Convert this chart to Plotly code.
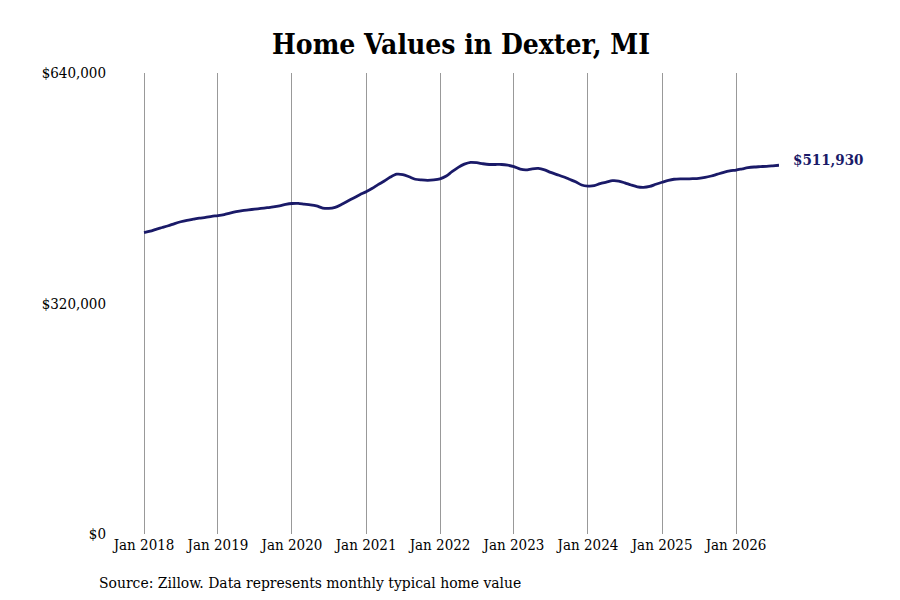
import plotly.graph_objects as go
import pandas as pd

start_month = "2018-01-01"
values_k = [
    # 2018
    418.5, 420.5, 423, 425.5, 428, 431, 433.5, 435.5, 437, 438.5, 439.5, 441,
    # 2019
    442, 443.5, 445.5, 447.5, 449, 450, 451, 452, 453, 454, 455.5, 457.5,
    # 2020
    458.8, 459, 458, 457, 455.5, 452.5, 452, 453.5, 457.5, 462, 466.5, 471,
    # 2021
    475.2, 480, 485, 490, 495.5, 499.5, 499, 496, 492.5, 491.5, 491, 491.5,
    # 2022
    493, 497, 503, 509, 513.5, 516, 515.5, 514, 513, 513, 513, 512,
    # 2023
    510, 506.5, 505.5, 507, 507.5, 505.5, 502, 499, 496, 492.5, 489, 484.5,
    # 2024
    483, 483.5, 486.5, 488.5, 490.5, 490, 487.5, 484.5, 482, 481.3, 482.5, 485.5,
    # 2025
    488.3, 491, 492.5, 493, 493, 493.3, 493.8, 495, 497, 499.5, 502, 504,
    # 2026
    505.3, 507, 508.5, 509.5, 510, 510.5, 511.2, 511.93,
]
values = [v * 1000 for v in values_k]
dates = pd.date_range(start_month, periods=len(values), freq="MS")

y_ticks = [0, 320000, 640000]
y_tick_labels = ["$0", "$320,000", "$640,000"]
x_tick_dates = pd.date_range("2018-01-01", "2026-01-01", freq="YS")
x_tick_labels = [f"Jan {d.year}" for d in x_tick_dates]
end_label = "$511,930"
title_text = "Home Values in Dexter, MI"
source_text = "Source: Zillow. Data represents monthly typical home value"

FONT = "DejaVu Serif Condensed, DejaVu Serif, serif"
LINE = "#1a1a68"

fig = go.Figure()
fig.add_trace(go.Scatter(
    x=dates, y=values, mode="lines",
    line=dict(color=LINE, width=2.8, shape="spline", smoothing=0.8),
    hoverinfo="skip", showlegend=False,
))
fig.add_annotation(
    x=dates[-1], y=values[-1], xref="x", yref="y",
    text=f"<b>{end_label}</b>", showarrow=False,
    xanchor="left", yanchor="middle", xshift=12, yshift=5,
    font=dict(family=FONT, size=15, color=LINE),
)
fig.add_annotation(
    x=0.0, y=0, xref="paper", yref="paper",
    text=source_text, showarrow=False,
    xanchor="left", yanchor="top", xshift=-46, yshift=-38,
    font=dict(family=FONT, size=15.5, color="#000000"),
)

fig.update_layout(
    width=900, height=600,
    margin=dict(l=135, r=129, t=65, b=74),
    plot_bgcolor="white", paper_bgcolor="white",
    title=dict(
        text=f"<b>{title_text}</b>", x=0.5, xref="paper", xanchor="center",
        y=0.94, yref="container", yanchor="middle",
        font=dict(family=FONT, size=28, color="#000000"),
    ),
    font=dict(family=FONT, size=15, color="#000000"),
)
fig.update_xaxes(
    range=[pd.Timestamp("2017-12-27"), dates[-1]],
    tickvals=x_tick_dates, ticktext=x_tick_labels,
    showgrid=True, gridcolor="#999999", gridwidth=1,
    zeroline=False, showline=False, ticks="",
    tickfont=dict(family=FONT, size=15),
)
fig.update_yaxes(
    range=[0, 640000],
    tickvals=y_ticks, ticktext=y_tick_labels,
    showgrid=False, zeroline=False, showline=False, ticks="",
    ticklabelstandoff=36,
    tickfont=dict(family=FONT, size=15),
)

fig.write_html("out.html")
